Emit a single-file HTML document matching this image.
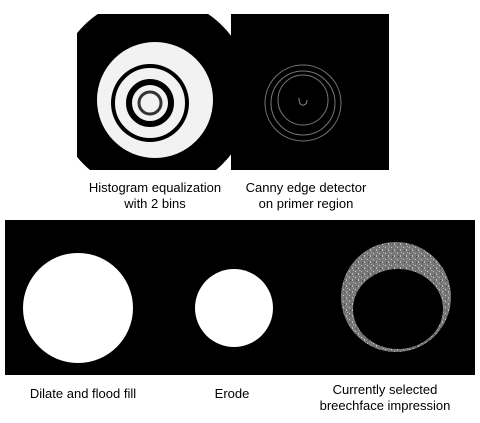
<!DOCTYPE html>
<html><head><meta charset="utf-8"><style>
body{margin:0;width:480px;height:423px;background:#fff;overflow:hidden;position:relative;font-family:"Liberation Sans",sans-serif;}
.l{position:absolute;font-size:13px;color:#000;text-align:center;line-height:16px;white-space:nowrap;transform:translateX(-50%);}
svg{position:absolute;left:0;top:0}
</style></head><body>
<svg width="480" height="423">
<defs>
<clipPath id="c1"><rect x="77" y="14" width="154" height="156"/></clipPath>
<pattern id="noise" width="6" height="6" patternUnits="userSpaceOnUse">
<rect width="6" height="6" fill="#777"/><rect x="1" y="1" width="1" height="1" fill="#ccc"/><rect x="4" y="3" width="1" height="2" fill="#bbb"/><rect x="2" y="4" width="1" height="1" fill="#444"/><rect x="5" y="0" width="1" height="1" fill="#aaa"/>
</pattern>
</defs>
<g clip-path="url(#c1)">
<rect x="77" y="14" width="154" height="156" fill="#fff"/>
<circle cx="153" cy="95" r="98" fill="#000"/>
<circle cx="155" cy="100" r="58" fill="#f2f2f2"/>
<circle cx="150" cy="103" r="37" fill="none" stroke="#000" stroke-width="4"/>
<circle cx="150" cy="103" r="21" fill="none" stroke="#000" stroke-width="6"/>
<circle cx="150" cy="103" r="11" fill="none" stroke="#333" stroke-width="3"/>
</g>
<g>
<rect x="231" y="14" width="158" height="156" fill="#000"/>
<circle cx="303" cy="103" r="38" fill="none" stroke="#777" stroke-width="1"/>
<circle cx="303" cy="103" r="32" fill="none" stroke="#777" stroke-width="1"/>
<circle cx="303" cy="100" r="25" fill="none" stroke="#777" stroke-width="1"/>
<path d="M299 98 q0 8 5 7 q3 -1 3 -5" fill="none" stroke="#888" stroke-width="1"/>
</g>
<rect x="5" y="220" width="470" height="155" fill="#000"/>
<circle cx="78" cy="308" r="55" fill="#fff"/>
<circle cx="234" cy="308" r="39" fill="#fff"/>
<circle cx="396" cy="297" r="55" fill="url(#noise)"/>
<ellipse cx="398" cy="309" rx="45" ry="40" fill="#000"/>
</svg>
<div class="l" style="left:155px;top:180px">Histogram equalization<br>with 2 bins</div>
<div class="l" style="left:306px;top:180px">Canny edge detector<br>on primer region</div>
<div class="l" style="left:83px;top:386px">Dilate and flood fill</div>
<div class="l" style="left:232px;top:386px">Erode</div>
<div class="l" style="left:385px;top:382px">Currently selected<br>breechface impression</div>
</body></html>
